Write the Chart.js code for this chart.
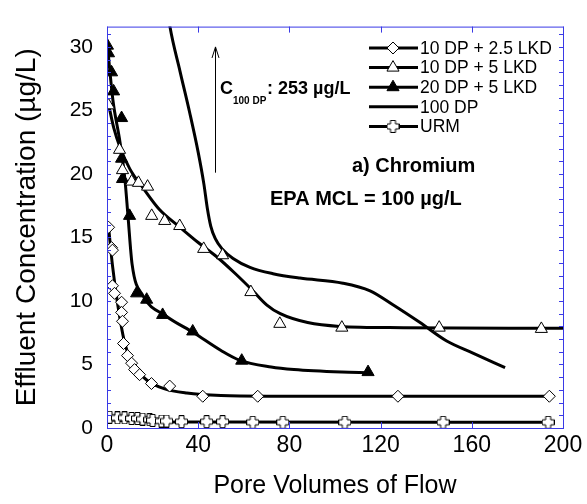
<!DOCTYPE html>
<html>
<head>
<meta charset="utf-8">
<script src="https://cdn.jsdelivr.net/npm/chart.js@4"></script>
<style>
body { margin: 0; background: #fff; }
</style>
</head>
<body>
<canvas id="myChart" width="587" height="504"></canvas>
<script>
// 10 DP + 2.5 LKD (open diamonds)
let lkd25X = [0.7, 2.0, 2.4, 2.4, 3.3, 6.4, 6.4, 6.8, 7.25, 9.0, 10.8, 12.1, 14.3, 19.5, 27.5, 42.0, 66.1, 127.6, 194];
let lkd25Y = [15.8, 14.2, 14.0, 11.2, 10.6, 9.9, 9.1, 8.4, 6.65, 5.7, 5.1, 4.6, 4.2, 3.5, 3.3, 2.5, 2.5, 2.5, 2.5];
let lkd25FitX = [0.7, 2.4, 4.8, 7.9, 13, 18, 25, 35, 50, 70, 194];
let lkd25FitY = [15.8, 12.8, 9.6, 6.6, 4.6, 3.7, 3.1, 2.75, 2.55, 2.5, 2.5];

// 10 DP + 5 LKD (open triangles)
let lkd5X = [0.66, 5.5, 6.8, 10.8, 13.8, 17.8, 19.6, 25.3, 31.9, 42.4, 50.7, 63.1, 75.8, 103, 145.7, 190.5];
let lkd5Y = [25.4, 21.9, 20.3, 19.4, 19.3, 19.0, 16.7, 16.3, 15.9, 14.1, 13.6, 10.7, 8.2, 7.9, 7.9, 7.8];
let lkd5FitX = [0.66, 3, 5.7, 10, 15.8, 23, 32, 40, 48, 56, 64, 70, 76, 88, 102, 130, 200];
let lkd5FitY = [25.5, 23.6, 22.1, 20.4, 18.9, 17.2, 15.8, 14.6, 13.5, 12.2, 10.8, 9.7, 9.0, 8.3, 8.0, 7.9, 7.85];

// 20 DP + 5 LKD (filled triangles)
let dp20X = [0.2, 0.66, 2.0, 2.9, 6.4, 6.4, 6.8, 9.9, 13.0, 17.4, 24.4, 37.6, 59.1, 114.5];
let dp20Y = [30.1, 29.5, 28.0, 26.5, 24.4, 21.2, 19.6, 16.7, 10.6, 10.1, 8.9, 7.6, 5.3, 4.4];
let dp20FitX = [0.2, 2.6, 5.7, 7.9, 9.2, 11, 15.8, 26, 38, 50, 58, 72, 82, 103, 114.5];
let dp20FitY = [30.1, 25.8, 22.5, 19.5, 16.7, 12.9, 10.4, 8.8, 7.5, 6.1, 5.35, 4.8, 4.6, 4.4, 4.35];

// 100 DP (line only)
let dp100X = [26.5, 27.6, 32, 36.3, 40, 42.5, 44, 45.5, 47.5, 50.5, 55.3, 62.7, 72.8, 84.6, 103.5, 115.4, 125.4, 137.3, 149, 160.5, 174.6];
let dp100Y = [33, 31.6, 28.1, 24.8, 21.7, 19.2, 17.3, 15.9, 14.9, 14.1, 13.35, 12.65, 12.15, 11.8, 11.4, 10.8, 9.7, 8.3, 6.85, 5.9, 4.75];

// URM (open crosses)
let urmX = [1.1, 4.6, 7.7, 10.8, 13.4, 15.6, 18.7, 20.0, 23.9, 26.1, 32.7, 43.7, 50.7, 63.9, 77.1, 104.3, 147.4, 193.5];
let urmY = [0.85, 0.8, 0.8, 0.75, 0.75, 0.7, 0.65, 0.6, 0.55, 0.55, 0.5, 0.5, 0.5, 0.45, 0.45, 0.45, 0.45, 0.45];
let urmFitX = [1.1, 20, 50, 193.5];
let urmFitY = [0.65, 0.5, 0.47, 0.45];

let xTicks = [0, 40, 80, 120, 160, 200];
let yTicks = [0, 5, 10, 15, 20, 25, 30];
let legendLabels = ['10 DP + 2.5 LKD', '10 DP + 5 LKD', '20 DP + 5 LKD', '100 DP', 'URM'];

function pairs(xs, ys) {
    return xs.map((x, i) => ({x: x, y: ys[i]}));
}

function plusMarker(size) {
    let c = document.createElement('canvas');
    c.width = size;
    c.height = size;
    let g = c.getContext('2d');
    let a = size / 2, w = 2.5, e = 0.5, f = size - 0.5;
    g.beginPath();
    g.moveTo(a - w, e); g.lineTo(a + w, e); g.lineTo(a + w, a - w); g.lineTo(f, a - w);
    g.lineTo(f, a + w); g.lineTo(a + w, a + w); g.lineTo(a + w, f); g.lineTo(a - w, f);
    g.lineTo(a - w, a + w); g.lineTo(e, a + w); g.lineTo(e, a - w); g.lineTo(a - w, a - w);
    g.closePath();
    g.fillStyle = '#fff';
    g.fill();
    g.strokeStyle = '#000';
    g.lineWidth = 1;
    g.stroke();
    return c;
}

let plus = plusMarker(13);

function fitLine(data) {
    return {
        data: data, showLine: true, borderColor: '#000', borderWidth: 3,
        pointRadius: 0, cubicInterpolationMode: 'monotone', order: 1
    };
}

function markers(data, style, radius, fill) {
    return {
        data: data, showLine: false, pointStyle: style, pointRadius: radius,
        pointBackgroundColor: fill, pointBorderColor: '#000', pointBorderWidth: 1, order: 0
    };
}

let legendStyles = [
    {style: 'rectRot', radius: 6, fill: '#fff'},
    {style: 'triangle', radius: 7, fill: '#fff'},
    {style: 'triangle', radius: 7, fill: '#000'},
    null,
    {style: plus, radius: 6, fill: '#fff'}
];

let frame = {
    id: 'frame',
    afterDatasetsDraw(chart) {
        let ctx = chart.ctx;
        let a = chart.chartArea;
        let xs = chart.scales.x, ys = chart.scales.y;
        ctx.save();
        // blue box with inward ticks
        ctx.strokeStyle = '#3a3ae6';
        ctx.lineWidth = 1;
        ctx.strokeRect(a.left + 0.5, a.top + 0.5, a.right - a.left, a.bottom - a.top);
        ctx.beginPath();
        xTicks.forEach(v => {
            let px = Math.round(xs.getPixelForValue(v)) + 0.5;
            ctx.moveTo(px, a.bottom); ctx.lineTo(px, a.bottom - 6);
            ctx.moveTo(px, a.top); ctx.lineTo(px, a.top + 6);
        });
        for (let v = 1; v <= 31; v++) {
            let py = Math.round(ys.getPixelForValue(v)) + 0.5;
            ctx.moveTo(a.left, py); ctx.lineTo(a.left + 4, py);
            ctx.moveTo(a.right, py); ctx.lineTo(a.right - 4, py);
        }
        ctx.stroke();

        // legend
        let lx = 369, rowY = 48;
        legendLabels.forEach((label, i) => {
            let y = rowY + i * 19.6;
            ctx.strokeStyle = '#000';
            ctx.lineWidth = 3;
            ctx.beginPath();
            ctx.moveTo(lx, y); ctx.lineTo(lx + 49, y);
            ctx.stroke();
            let s = legendStyles[i];
            if (s) {
                ctx.lineWidth = 1;
                ctx.fillStyle = s.fill;
                Chart.helpers.drawPoint(ctx, {pointStyle: s.style, radius: s.radius, rotation: 0, borderWidth: 1}, lx + 24, y);
            }
            ctx.fillStyle = '#000';
            ctx.font = '17.5px "Liberation Sans", Arial, sans-serif';
            ctx.textBaseline = 'middle';
            ctx.textAlign = 'left';
            ctx.fillText(label, lx + 51, y + 1);
        });

        // arrow for 100 DP influent
        let ax = Math.round(xs.getPixelForValue(47.5)) + 0.5;
        let ay0 = ys.getPixelForValue(20.1), ay1 = ys.getPixelForValue(30.0);
        ctx.strokeStyle = '#000';
        ctx.lineWidth = 1;
        ctx.beginPath();
        ctx.moveTo(ax, ay0); ctx.lineTo(ax, ay1);
        ctx.moveTo(ax - 3.5, ay1 + 11); ctx.lineTo(ax, ay1); ctx.lineTo(ax + 3.5, ay1 + 11);
        ctx.stroke();

        ctx.fillStyle = '#000';
        ctx.textBaseline = 'alphabetic';
        ctx.font = 'bold 18px "Liberation Sans", Arial, sans-serif';
        ctx.fillText('C', 220, 94);
        ctx.font = 'bold 10px "Liberation Sans", Arial, sans-serif';
        ctx.fillText('100 DP', 233, 104);
        ctx.font = 'bold 18px "Liberation Sans", Arial, sans-serif';
        ctx.fillText(': 253 \u00b5g/L', 267, 94);

        ctx.font = 'bold 20px "Liberation Sans", Arial, sans-serif';
        ctx.fillText('a) Chromium', 352, 172);
        ctx.fillText('EPA MCL = 100 \u00b5g/L', 270, 205);
        ctx.restore();
    }
};

let ctx = document.getElementById('myChart').getContext('2d');
let myChart = new Chart(ctx, {
    type: 'scatter',
    data: {
        datasets: [
            markers(pairs(lkd25X, lkd25Y), 'rectRot', 6, '#fff'),
            markers(pairs(lkd5X, lkd5Y), 'triangle', 7, '#fff'),
            markers(pairs(dp20X, dp20Y), 'triangle', 7, '#000'),
            markers(pairs(urmX, urmY), plus, 6, '#fff'),
            fitLine(pairs(lkd25FitX, lkd25FitY)),
            fitLine(pairs(lkd5FitX, lkd5FitY)),
            fitLine(pairs(dp20FitX, dp20FitY)),
            fitLine(pairs(dp100X, dp100Y)),
            fitLine(pairs(urmFitX, urmFitY))
        ]
    },
    options: {
        responsive: false,
        animation: false,
        devicePixelRatio: 1,
        layout: {padding: {top: 10, right: 24, left: 0, bottom: 0}},
        plugins: {legend: {display: false}, tooltip: {enabled: false}},
        scales: {
            x: {
                type: 'linear', min: 0, max: 200,
                grid: {display: false, drawTicks: false},
                border: {display: false},
                afterBuildTicks: s => { s.ticks = xTicks.map(v => ({value: v})); },
                afterFit: s => { s.height = 76; },
                ticks: {color: '#000', padding: 4, maxRotation: 0, font: {size: 23, family: '"Liberation Sans", Arial'}},
                title: {display: true, text: 'Pore Volumes of Flow', color: '#000', padding: {top: 0, bottom: 3},
                        font: {size: 25, family: '"Liberation Sans", Arial'}}
            },
            y: {
                type: 'linear', min: 0, max: 31.6,
                grid: {display: false, drawTicks: false},
                border: {display: false},
                afterBuildTicks: s => { s.ticks = yTicks.map(v => ({value: v})); },
                afterFit: s => { s.width = 107; },
                ticks: {color: '#000', padding: 14, font: {size: 21, family: '"Liberation Sans", Arial'}},
                title: {display: true, text: 'Effluent Concentration (\u00b5g/L)', color: '#000', padding: {top: 10, bottom: 0},
                        font: {size: 28, family: '"Liberation Sans", Arial'}}
            }
        }
    },
    plugins: [frame]
});
</script>
</body>
</html>
